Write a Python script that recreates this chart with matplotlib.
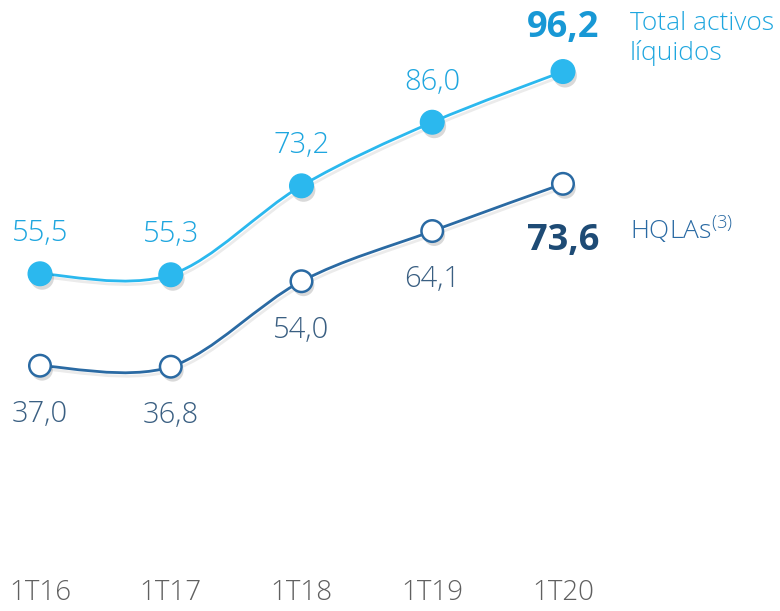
import matplotlib
matplotlib.use('Agg')
import matplotlib.pyplot as plt
import matplotlib.patheffects as pe
from matplotlib.path import Path
from matplotlib.patches import PathPatch
import numpy as np

periods = ['1T16', '1T17', '1T18', '1T19', '1T20']
total_activos = [55.5, 55.3, 73.2, 86.0, 96.2]
hqlas = [37.0, 36.8, 54.0, 64.1, 73.6]

light_blue = '#2bb8ee'
light_text = '#1ea6df'
light_bold = '#1898d5'
dark_blue = '#2a6aa3'
dark_text = '#3a5f82'
dark_bold = '#1e4b75'

font = 'Open Sans'


def smooth_path(xs, ys):
    # bezier segments through every point (catmull-rom style control points)
    pts = np.column_stack([xs, ys]).astype(float)
    n = len(pts)
    verts = [pts[0]]
    codes = [Path.MOVETO]
    for i in range(n - 1):
        p0 = pts[max(i - 1, 0)]
        p1 = pts[i]
        p2 = pts[i + 1]
        p3 = pts[min(i + 2, n - 1)]
        verts += [p1 + (p2 - p0) / 6, p2 - (p3 - p1) / 6, p2]
        codes += [Path.CURVE4] * 3
    return Path(verts, codes)


def fmt(v):
    return f'{v:.1f}'.replace('.', ',')


fig = plt.figure(figsize=(7.8, 6.11), dpi=100)
ax = fig.add_axes([0, 0.0835, 1, 0.9165])
x = np.arange(len(periods))

shadow = [pe.SimpleLineShadow(offset=(1.5, -2.5), shadow_color='black', alpha=0.08), pe.Normal()]

for vals, col in [(total_activos, light_blue), (hqlas, dark_blue)]:
    patch = PathPatch(smooth_path(x, vals), facecolor='none', edgecolor=col, lw=2.0, zorder=2)
    patch.set_path_effects(shadow)
    ax.add_patch(patch)

mshadow = [pe.SimplePatchShadow(offset=(1.5, -3), shadow_rgbFace='black', alpha=0.15), pe.Normal()]
ax.plot(x, total_activos, ls='none', marker='o', ms=17, mfc=light_blue, mec=light_blue,
        zorder=3, path_effects=mshadow)
ax.plot(x, hqlas, ls='none', marker='o', ms=15.5, mfc='white', mec=dark_blue, mew=1.8,
        zorder=3, path_effects=mshadow)

for i, v in enumerate(total_activos):
    last = i == len(periods) - 1
    ax.annotate(fmt(v), (x[i], v), xytext=(0, 31 if last else 29), textcoords='offset points',
                ha='center', va='center', fontsize=26 if last else 21,
                fontweight='bold' if last else 'light', color=light_bold if last else light_text,
                family=font)

for i, v in enumerate(hqlas):
    last = i == len(periods) - 1
    ax.annotate(fmt(v), (x[i], v), xytext=(0, -41 if last else -35), textcoords='offset points',
                ha='center', va='center', fontsize=26 if last else 21,
                fontweight='bold' if last else 'light', color=dark_bold if last else dark_text,
                family=font)

# series names on the right
ax.text(4.51, 110.6 - 39 / 4.97, 'Total activos\nlíquidos', ha='left', va='center',
        fontsize=19, fontweight='light', color=light_text, family=font, linespacing=1.2)
ax.text(4.51, 110.6 - 229 / 4.97, r'HQLAs$^{\mathregular{(3)}}$', ha='left', va='center',
        fontsize=19, fontweight='light', color=dark_blue, family=font)

ax.set_xlim(-0.306, 5.66)
ax.set_ylim(-2.1, 110.6)
ax.set_xticks(x)
ax.set_xticklabels(periods, family=font, fontweight='light', fontsize=20, color='#606060')
ax.tick_params(axis='x', length=0, pad=14)
ax.set_yticks([])
for s in ax.spines.values():
    s.set_visible(False)

fig.savefig('out.png', dpi=100)
